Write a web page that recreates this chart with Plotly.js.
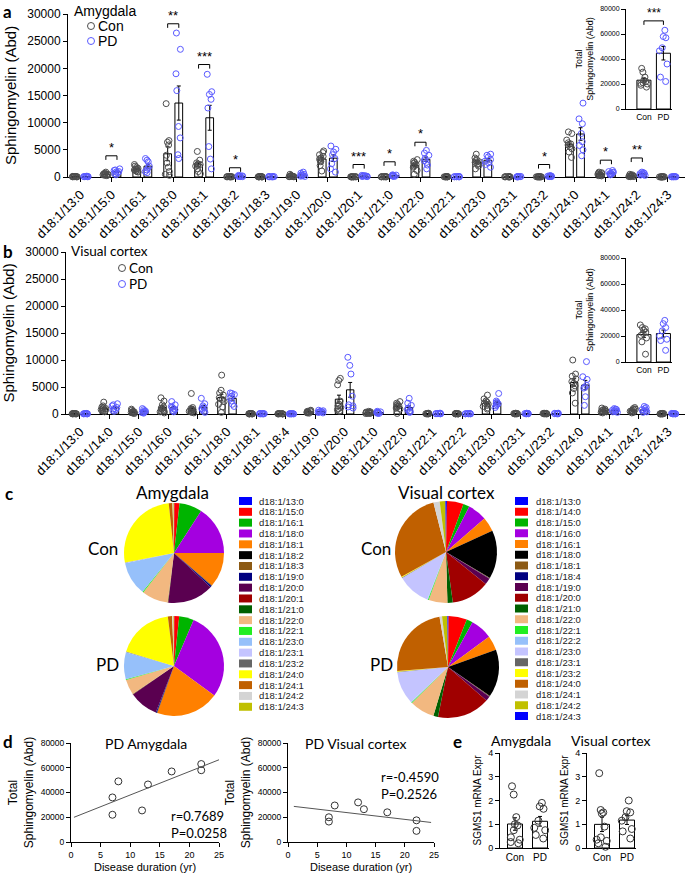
<!DOCTYPE html>
<html>
<head>
<meta charset="utf-8">
<script src="https://cdn.plot.ly/plotly-3.0.1.min.js"></script>
<style>
  html, body { margin: 0; padding: 0; background: #fff; }
  #chart { width: 685px; height: 878px; }
</style>
</head>
<body>
<div id="chart"></div>
<script>
// ---- data ----
const amyCats = ['d18:1/13:0','d18:1/15:0','d18:1/16:1','d18:1/18:0','d18:1/18:1','d18:1/18:2','d18:1/18:3',
  'd18:1/19:0','d18:1/20:0','d18:1/20:1','d18:1/21:0','d18:1/22:0','d18:1/22:1','d18:1/23:0','d18:1/23:1',
  'd18:1/23:2','d18:1/24:0','d18:1/24:1','d18:1/24:2','d18:1/24:3'];
const amyCon = [
  [120,100,90,80,70,60,50,40,30,20],
  [900,700,600,550,500,450,400,350,300,250],
  [2300,2000,1800,1600,1500,1400,1300,1100,1000,900],
  [13500,6700,6400,5900,4000,2600,1800,1000,500,300],
  [4700,3100,2600,2400,2300,2200,2000,1500,1000,600],
  [100,80,70,60,50,40,35,30,25,20],
  [90,70,60,50,40,35,30,25,20,15],
  [500,300,200,150,120,100,80,60,50,40],
  [4800,4500,4100,3800,3500,3300,3000,2800,2100,1100],
  [60,50,45,40,35,30,25,20,15,10],
  [90,70,60,50,45,40,35,30,25,20],
  [3200,2900,2700,2500,2300,2200,2000,1800,1200,500],
  [80,60,50,45,40,35,30,25,20,15],
  [4200,3500,3200,3000,2800,2700,2500,2300,2000,1500],
  [70,60,50,45,40,35,30,25,20,15],
  [60,50,45,40,35,30,25,20,15,10],
  [8300,8000,6800,6300,6100,5900,5600,5200,4600,3600],
  [900,800,700,600,500,400,350,300,250,200],
  [500,400,300,250,200,150,120,100,80,60],
  [50,40,35,30,25,20,15,12,10,8]
];
const amyPD = [
  [150,120,100,90,80,60,50,40],
  [1500,1300,1200,1000,900,800,600,400],
  [3400,3100,2800,2000,1600,1300,1000,800],
  [26500,23500,19000,15900,9300,7200,4100,3400],
  [18900,15700,15200,14300,12700,5600,3300,1500],
  [300,250,200,150,120,100,80,60],
  [100,80,70,60,50,40,30,20],
  [900,700,500,400,300,200,150,100],
  [5700,5100,4600,4100,3400,2450,1500,900],
  [300,250,200,180,150,120,100,80],
  [400,350,300,250,200,180,150,100],
  [4900,4400,4000,3400,3000,2700,2200,1500],
  [100,80,70,60,50,40,30,20],
  [4200,4000,3700,3200,2900,2600,2300,1800],
  [100,80,70,60,50,40,30,20],
  [250,200,180,150,120,100,80,60],
  [13600,10700,9800,8000,6500,5800,5000,3900],
  [1200,1000,900,800,700,600,500,400],
  [900,800,700,600,500,400,350,300],
  [80,60,50,45,40,35,30,25]
];
const amySigIdx = [1, 3, 4, 5, 9, 10, 11, 15, 17, 18];
const amySigText = ['*', '**', '***', '*', '***', '*', '*', '*', '*', '**'];
const amySigY = [3900, 28200, 20700, 1700, 2300, 2800, 6400, 2300, 3100, 3500];

const vcCats = ['d18:1/13:0','d18:1/14:0','d18:1/15:0','d18:1/16:0','d18:1/16:1','d18:1/18:0','d18:1/18:1',
  'd18:1/18:4','d18:1/19:0','d18:1/20:0','d18:1/21:0','d18:1/22:0','d18:1/22:1','d18:1/22:2','d18:1/23:0',
  'd18:1/23:1','d18:1/23:2','d18:1/24:0','d18:1/24:1','d18:1/24:2','d18:1/24:3'];
const vcCon = [
  [100,80,70,60,50,40,35,30,25,20],
  [2200,1500,1300,1100,1000,900,800,700,600,400],
  [900,700,500,400,350,300,250,200,150,100],
  [3000,2400,1700,1300,1100,900,700,500,400,200],
  [3800,1200,1000,900,800,700,500,400,300,200],
  [7200,4400,3900,3500,3000,2700,2300,1800,1300,300],
  [100,80,60,50,40,35,30,25,20,15],
  [80,60,50,40,35,30,25,20,15,10],
  [700,600,500,450,400,350,300,250,200,150],
  [6600,6200,5400,2400,1800,1500,1200,1000,800,500],
  [500,400,350,300,250,200,150,120,100,80],
  [2300,2000,1800,1600,1500,1400,1300,1100,900,100],
  [150,120,100,80,60,50,40,30,25,20],
  [100,80,60,50,40,35,30,25,20,15],
  [3500,2800,2400,2200,2000,1800,1600,1400,1100,900],
  [150,120,100,80,60,50,40,30,25,20],
  [150,120,100,80,60,50,40,30,25,20],
  [10000,7400,7000,6500,6000,5700,5200,4700,3900,2000],
  [1100,900,800,700,600,500,450,400,300,200],
  [1200,1000,900,800,700,600,500,400,300,200],
  [100,80,60,50,40,35,30,25,20,15]
];
const vcPD = [
  [100,80,60,50,40,35,30,20],
  [1900,1700,1500,1200,1000,800,700,500],
  [1000,800,600,500,400,300,250,150],
  [2300,1700,1400,1200,1000,800,600,400],
  [2900,1900,1500,1200,1000,800,500,300],
  [3900,3800,3600,3300,3000,2400,1800,1400],
  [100,80,60,50,40,30,25,20],
  [80,60,50,40,30,25,20,15],
  [700,600,500,450,400,350,300,200],
  [10500,9000,7400,3300,1700,1500,1300,1100],
  [500,400,350,300,250,200,150,100],
  [2900,2000,1600,1100,800,500,400,300],
  [150,120,100,80,60,50,40,30],
  [100,80,60,50,40,35,30,20],
  [3800,2400,2200,2000,1900,1700,1500,1200],
  [150,120,100,80,60,50,40,30],
  [150,120,100,80,60,50,40,30],
  [9700,6900,6400,5300,5000,4800,3200,1600],
  [1000,900,800,700,600,500,400,300],
  [1400,1200,1000,800,700,500,400,300],
  [100,80,60,50,40,35,30,20]
];

// totals per subject; PD subjects in the same order as pdDuration
const amyTotalCon = [32500,29500,25500,23000,22000,21000,20500,20000,19000,17500];
const amyTotalPD = [36000,22000,49000,25500,46500,57000,63000,58000];
const vcTotalCon = [28500,26500,25500,24500,23000,22000,20500,18500,15500,6000];
const vcTotalPD = [20000,16500,29500,32000,26500,24000,17500,9000];
const pdDuration = [7,7,8,12,13,17,22,22];
const amyFitX = [0.5, 25];
const vcFitX = [1, 24.5];
const amyCorr = ['r=0.7689', 'P=0.0258'];
const vcCorr = ['r=-0.4590', 'P=0.2526'];

const sgmsAmyCon = [2.6,2.25,1.3,1.0,0.95,0.75,0.45,0.35,0.25,0.2];
const sgmsAmyPD = [1.9,1.75,1.65,1.15,0.85,0.75,0.55,0.4];
const sgmsVcCon = [3.15,1.6,1.5,1.45,0.9,0.45,0.35,0.3,0.2,0.05];
const sgmsVcPD = [2.0,1.55,1.5,1.3,1.15,0.8,0.7,0.4];

// pie shares (%) in legend order
const amyPieCon = [0.1,1.7,7.4,16,11.4,0.1,0.1,0.5,15,0.1,0.1,8.6,0.3,11,0.1,0.1,26.6,1.2,0.3,0.2];
const amyPiePD = [0.1,1.6,4.8,29,20.6,0.1,0.1,0.3,9.5,0.1,0.1,5,0.3,8.8,0.1,0.1,18.6,1.4,0.4,0.2];
const vcPieCon = [0.3,5.3,2,6.1,4.6,15.5,0.2,0.1,2,12.2,1.7,6,0.3,0.2,10.6,0.2,0.2,29.4,2,1.8,0.2];
const vcPiePD = [0.2,5.9,2,7,4.7,15.4,0.2,0.1,1.5,17,1.5,8,0.3,0.2,10.5,0.2,0.2,24,0.8,1.7,0.2];

const pieColors = ['#0000ff','#ff0000','#00b400','#a400e0','#ff8000','#000000','#8c5a14','#000080','#5a0050',
  '#a00000','#006000','#f2b880','#22ee22','#96c0fa','#c4c4ff','#666666','#ffff00','#c06000','#d4d4d4','#c0c000','#0000ff'];

// ---- helpers ----
const W = 685, H = 878;
const fx = p => p / W;
const fy = p => 1 - p / H;
const xDom = (l, r) => [fx(l), fx(r)];
const yDom = (top, bottom) => [fy(bottom), fy(top)];
const ARIAL = 'Liberation Sans, Arial, sans-serif';
const CALI = 'Lato, sans-serif';
const CON_COL = '#4d4d4d', PD_COL = '#5a5aff';

const mean = a => a.reduce((s, v) => s + v, 0) / a.length;
const sem = a => {
  const m = mean(a);
  return Math.sqrt(a.reduce((s, v) => s + (v - m) * (v - m), 0) / (a.length - 1)) / Math.sqrt(a.length);
};
function linfit(x, y) {
  const mx = mean(x), my = mean(y);
  let sxy = 0, sxx = 0;
  x.forEach((v, i) => { sxy += (v - mx) * (y[i] - my); sxx += (v - mx) * (v - mx); });
  const b = sxy / sxx;
  return { b, a: my - b * mx };
}

const traces = [];
const shapes = [];
const annotations = [];

// bars on the visible axis, jittered dots on a hidden twin axis that reaches a few px below zero
function addGroup(groups, pos, xa, ya, yp, bw, col, jit, size) {
  traces.push({
    type: 'bar', x: pos, y: groups.map(mean), width: bw, xaxis: xa, yaxis: ya,
    marker: { color: 'white', line: { color: 'black', width: 1 } },
    error_y: { type: 'data', array: groups.map(sem), color: 'black', thickness: 1, width: 2 },
    hoverinfo: 'skip', showlegend: false
  });
  const xs = [], ys = [];
  groups.forEach((g, i) => g.forEach(v => { xs.push(pos[i]); ys.push(v); }));
  traces.push({
    type: 'box', x: xs, y: ys, xaxis: xa, yaxis: yp, boxpoints: 'all', jitter: jit, pointpos: 0,
    width: bw, fillcolor: 'rgba(0,0,0,0)', line: { width: 0, color: 'rgba(0,0,0,0)' }, whiskerwidth: 0,
    marker: { symbol: 'circle-open', size: size, color: col, line: { width: 1, color: col } },
    hoverinfo: 'skip', showlegend: false
  });
}

function bracket(xa, ya, x0, x1, y, leg, txt, fsize) {
  shapes.push({ type: 'path', xref: xa, yref: ya,
    path: `M${x0},${y - leg} L${x0},${y} L${x1},${y} L${x1},${y - leg}`,
    line: { color: 'black', width: 1 } });
  annotations.push({ xref: xa, yref: ya, x: (x0 + x1) / 2, y: y, yanchor: 'bottom', text: txt,
    showarrow: false, borderpad: 0, font: { family: ARIAL, size: fsize, color: 'black' } });
}

function txt(x, y, text, size, family, xanchor, extra) {
  annotations.push(Object.assign({ xref: 'paper', yref: 'paper', x: fx(x), y: fy(y), text,
    xanchor: xanchor || 'center', yanchor: 'middle', showarrow: false, borderpad: 0,
    font: { family: family || ARIAL, size, color: 'black' } }, extra || {}));
}

function dotKey(cx, cy, col, label, size, family) {
  shapes.push({ type: 'circle', xref: 'paper', yref: 'paper', x0: fx(cx - 3.5), x1: fx(cx + 3.5),
    y0: fy(cy + 3.5), y1: fy(cy - 3.5), line: { color: col, width: 1 } });
  txt(cx + 6, cy, label, size, family, 'left');
}

function pieLegend(labels, colors, swX, txtX, top, step) {
  labels.forEach((lab, i) => {
    const cy = top + step * i;
    shapes.push({ type: 'rect', xref: 'paper', yref: 'paper', x0: fx(swX), x1: fx(swX + 13),
      y0: fy(cy + 4), y1: fy(cy - 4), fillcolor: colors[i], line: { width: 0 } });
    txt(txtX, cy, lab, 9.5, ARIAL, 'left', { font: { family: ARIAL, size: 9.5, color: '#222' } });
  });
}

const axBase = { showline: true, linecolor: 'black', linewidth: 1, showgrid: false, zeroline: false,
  ticks: 'outside', tickcolor: 'black', ticklen: 4, tickwidth: 1, fixedrange: true };
function yAxis(top, bottom, range, dtick, fsize, anchor, title, tfont, standoff) {
  return Object.assign({}, axBase, { domain: yDom(top, bottom), range, dtick, tickformat: 'd',
    anchor, tickfont: { family: ARIAL, size: fsize, color: 'black' },
    title: { text: title, font: { family: ARIAL, size: tfont, color: 'black' }, standoff } });
}
function padAxis(top, bottom, range, anchor, pad) {
  const k = (range[1] - range[0]) / (bottom - top);
  return { visible: false, anchor, fixedrange: true, domain: yDom(top, bottom + pad),
    range: [range[0] - pad * k, range[1]] };
}
function catAxis(l, r, range, cats, anchor, fsize, angle, ticks) {
  return Object.assign({}, axBase, { domain: xDom(l, r), range, anchor, tickmode: 'array',
    tickvals: cats.map((c, i) => i), ticktext: cats, tickangle: angle, ticks: ticks,
    tickfont: { family: ARIAL, size: fsize, color: 'black' } });
}

// ---- panel a ----
addGroup(amyCon, amyCon.map((g, i) => i - 0.18), 'x', 'y', 'y11', 0.25, CON_COL, 0.8, 6);
addGroup(amyPD, amyPD.map((g, i) => i + 0.18), 'x', 'y', 'y11', 0.25, PD_COL, 0.8, 6);
amySigIdx.forEach((ci, k) => bracket('x', 'y', ci - 0.18, ci + 0.18, amySigY[k], 750, amySigText[k], 13));

// inset a
addGroup([amyTotalCon], [0], 'x2', 'y2', 'y12', 0.72, CON_COL, 0.7, 6);
addGroup([amyTotalPD], [1], 'x2', 'y2', 'y12', 0.72, PD_COL, 0.7, 6);
bracket('x2', 'y2', 0, 1, 70500, 3200, '***', 12);

// ---- panel b ----
addGroup(vcCon, vcCon.map((g, i) => i - 0.19), 'x3', 'y3', 'y13', 0.25, CON_COL, 0.8, 6);
addGroup(vcPD, vcPD.map((g, i) => i + 0.19), 'x3', 'y3', 'y13', 0.25, PD_COL, 0.8, 6);
addGroup([vcTotalCon], [0], 'x4', 'y4', 'y14', 0.72, CON_COL, 0.7, 6);
addGroup([vcTotalPD], [1], 'x4', 'y4', 'y14', 0.72, PD_COL, 0.7, 6);

// ---- panel c pies ----
function pie(values, labels, l, r, top, bottom) {
  traces.push({ type: 'pie', values, labels, sort: false, direction: 'clockwise', rotation: 0,
    textinfo: 'none', hoverinfo: 'skip', showlegend: false,
    marker: { colors: pieColors.slice(0, labels.length), line: { width: 0 } },
    domain: { x: xDom(l, r), y: yDom(top, bottom) } });
}
pie(amyPieCon, amyCats, 124, 224, 503, 603);
pie(amyPiePD, amyCats, 124, 224, 616, 716);
pie(vcPieCon, vcCats, 395, 497, 501, 603);
pie(vcPiePD, vcCats, 397, 499, 616, 718);
pieLegend(amyCats, pieColors, 239, 258, 501, 10.83);
pieLegend(vcCats, pieColors, 515, 535, 501, 10.75);

// ---- panel d ----
[[amyTotalPD, amyFitX, 'x5', 'y5'], [vcTotalPD, vcFitX, 'x6', 'y6']].forEach(([tot, fitX, xa, ya]) => {
  traces.push({ type: 'scatter', mode: 'markers', x: pdDuration, y: tot, xaxis: xa, yaxis: ya,
    marker: { symbol: 'circle-open', size: 7, color: '#333', line: { width: 1, color: '#333' } },
    hoverinfo: 'skip', showlegend: false, cliponaxis: false });
  const f = linfit(pdDuration, tot);
  traces.push({ type: 'scatter', mode: 'lines', x: fitX, y: fitX.map(v => f.a + f.b * v), xaxis: xa, yaxis: ya,
    line: { color: '#555', width: 1 }, hoverinfo: 'skip', showlegend: false });
});

// ---- panel e ----
addGroup([sgmsAmyCon], [0], 'x7', 'y7', 'y17', 0.6, '#333', 0.9, 7);
addGroup([sgmsAmyPD], [1], 'x7', 'y7', 'y17', 0.6, '#333', 0.9, 7);
addGroup([sgmsVcCon], [0], 'x8', 'y8', 'y18', 0.6, '#333', 0.9, 7);
addGroup([sgmsVcPD], [1], 'x8', 'y8', 'y18', 0.6, '#333', 0.9, 7);

// ---- text ----
const bold = s => '<b>' + s + '</b>';
txt(8, 11, bold('a'), 17, CALI);
txt(8, 252, bold('b'), 17, CALI);
txt(9, 493, bold('c'), 17, CALI);
txt(8, 741, bold('d'), 17, CALI);
txt(457, 741, bold('e'), 17, CALI);

txt(73, 11, 'Amygdala', 14, ARIAL, 'left');
dotKey(91, 26, CON_COL, 'Con', 14, ARIAL);
dotKey(91, 41, PD_COL, 'PD', 14, ARIAL);
txt(70, 251, 'Visual cortex', 13.5, CALI, 'left');
dotKey(122, 268, CON_COL, 'Con', 13.5, CALI);
dotKey(122, 284, PD_COL, 'PD', 13.5, CALI);

txt(172, 492, 'Amygdala', 17, CALI);
txt(447, 492, 'Visual cortex', 17, CALI);
txt(103, 548, 'Con', 17, CALI);
txt(107, 664, 'PD', 17, CALI);
txt(376, 548, 'Con', 17, CALI);
txt(381, 664, 'PD', 17, CALI);

txt(146, 743, 'PD Amygdala', 14, CALI);
txt(356, 743, 'PD Visual cortex', 14, CALI);
txt(170, 824, amyCorr.join('<br>'), 13, CALI, 'left', { align: 'left' });
txt(380, 785, vcCorr.join('<br>'), 13, CALI, 'left', { align: 'left' });
txt(521, 740, 'Amygdala', 14, CALI);
txt(610, 740, 'Visual cortex', 14, CALI);

const totalTitle = 'Total<br>Sphingomyelin (Abd)';
const layout = {
  width: W, height: H, autosize: false, margin: { l: 0, r: 0, t: 0, b: 0 },
  paper_bgcolor: 'white', plot_bgcolor: 'rgba(0,0,0,0)', showlegend: false,
  barmode: 'overlay', boxmode: 'overlay', font: { family: ARIAL, color: 'black' },
  // a
  xaxis: catAxis(68, 685, [-0.405, 19.56], amyCats, 'y', 13, -45, 'outside'),
  yaxis: yAxis(14, 177, [0, 30000], 5000, 12, 'x', 'Sphingomyelin (Abd)', 15, 6),
  yaxis11: padAxis(14, 177, [0, 30000], 'x', 8),
  xaxis2: catAxis(626, 672, [-0.92, 1.44], ['Con', 'PD'], 'y2', 8.5, 0, ''),
  yaxis2: yAxis(9, 109, [0, 80000], 20000, 7, 'x2', totalTitle, 9, 4),
  yaxis12: padAxis(9, 109, [0, 80000], 'x2', 8),
  // b
  xaxis3: catAxis(66, 685, [-0.476, 20.58], vcCats, 'y3', 13, -45, 'outside'),
  yaxis3: yAxis(252, 414, [0, 30000], 5000, 12, 'x3', 'Sphingomyelin (Abd)', 15, 6),
  yaxis13: padAxis(252, 414, [0, 30000], 'x3', 8),
  xaxis4: catAxis(626, 672, [-0.92, 1.44], ['Con', 'PD'], 'y4', 8.5, 0, ''),
  yaxis4: yAxis(258, 362, [0, 80000], 20000, 7, 'x4', totalTitle, 9, 4),
  yaxis14: padAxis(258, 362, [0, 80000], 'x4', 8),
  // d
  xaxis5: Object.assign({}, axBase, { domain: xDom(71, 219), range: [0, 25], dtick: 5, anchor: 'y5',
    tickfont: { family: ARIAL, size: 9 }, title: { text: 'Disease duration (yr)', font: { family: ARIAL, size: 11 }, standoff: 4 } }),
  yaxis5: yAxis(743, 842, [0, 80000], 20000, 8.5, 'x5', totalTitle, 12, 4),
  xaxis6: Object.assign({}, axBase, { domain: xDom(288, 434), range: [0, 25], dtick: 5, anchor: 'y6',
    tickfont: { family: ARIAL, size: 9 }, title: { text: 'Disease duration (yr)', font: { family: ARIAL, size: 11 }, standoff: 4 } }),
  yaxis6: yAxis(743, 842, [0, 80000], 20000, 8.5, 'x6', totalTitle, 12, 4),
  // e
  xaxis7: catAxis(500, 549, [-0.6, 1.36], ['Con', 'PD'], 'y7', 10, 0, ''),
  yaxis7: yAxis(753, 848, [0, 4], 1, 9, 'x7', 'SGMS1 mRNA Expr', 10, 4),
  yaxis17: padAxis(753, 848, [0, 4], 'x7', 8),
  xaxis8: catAxis(587, 636, [-0.6, 1.36], ['Con', 'PD'], 'y8', 10, 0, ''),
  yaxis8: yAxis(753, 848, [0, 4], 1, 9, 'x8', 'SGMS1 mRNA Expr', 10, 4),
  yaxis18: padAxis(753, 848, [0, 4], 'x8', 8),
  shapes, annotations
};

Plotly.newPlot('chart', traces, layout, { displayModeBar: false, staticPlot: true });
</script>
</body>
</html>
